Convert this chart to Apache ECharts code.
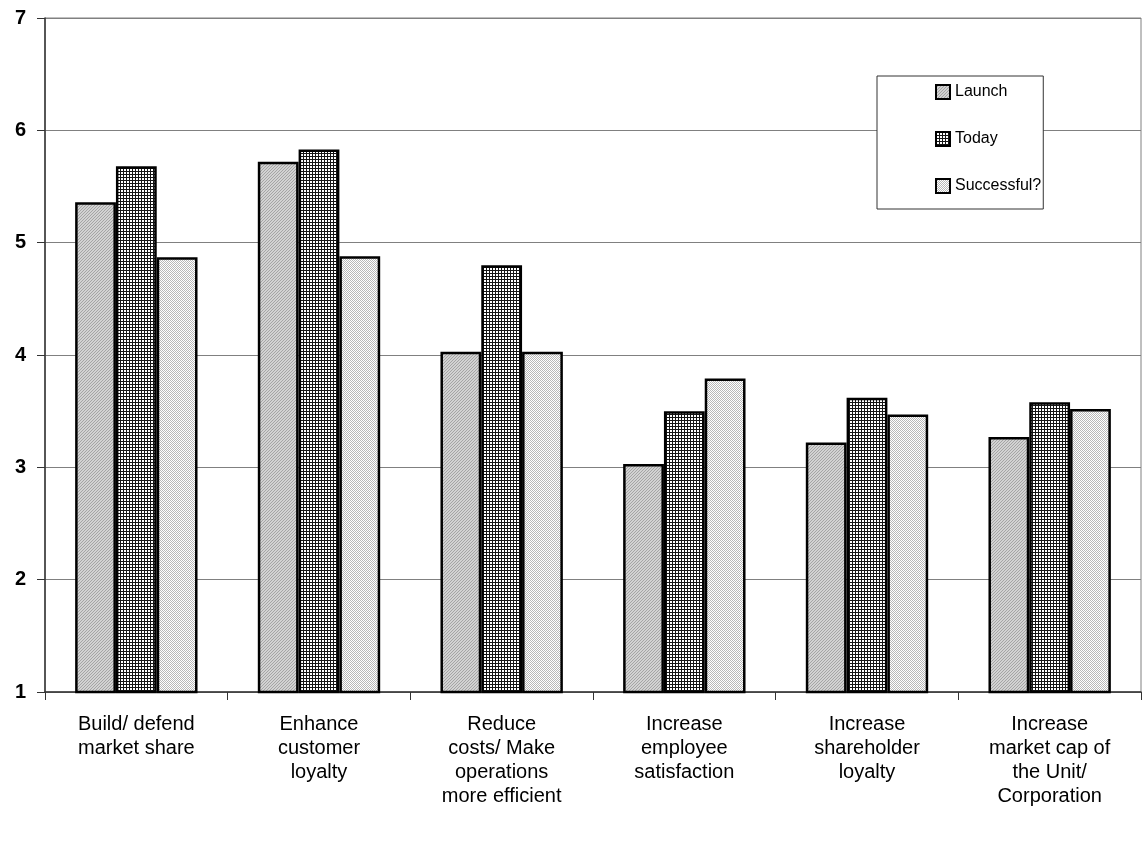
<!DOCTYPE html>
<html>
<head>
<meta charset="utf-8">
<title>Objectives</title>
<script src="https://cdn.jsdelivr.net/npm/echarts@6/dist/echarts.min.js"></script>
<style>
    html, body { margin: 0; padding: 0; background: #fff; }
    #chart { width: 1143px; height: 848px; }
</style>
</head>
<body>
<div id="chart"></div>
<script>
// 数据
var categories = [
    'Build/ defend\nmarket share',
    'Enhance\ncustomer\nloyalty',
    'Reduce\ncosts/ Make\noperations\nmore efficient',
    'Increase\nemployee\nsatisfaction',
    'Increase\nshareholder\nloyalty',
    'Increase\nmarket cap of\nthe Unit/\nCorporation'
];
var seriesNames = ['Launch', 'Today', 'Successful?'];
var launchData = [5.36, 5.72, 4.03, 3.03, 3.22, 3.27];
var todayData = [5.68, 5.83, 4.80, 3.50, 3.62, 3.58];
var successData = [4.87, 4.88, 4.03, 3.79, 3.47, 3.52];

// 填充纹理
function makePattern(size, draw) {
    var c = document.createElement('canvas');
    c.width = size;
    c.height = size;
    var ctx = c.getContext('2d');
    draw(ctx, size);
    return { image: c, repeat: 'repeat' };
}
var launchFill = makePattern(3, function (ctx, s) {
    ctx.fillStyle = '#d2d2d2';
    ctx.fillRect(0, 0, s, s);
    ctx.fillStyle = '#a4a4a4';
    for (var i = 0; i < s; i++) {
        ctx.fillRect((s - 1 - i), i, 1, 1);
    }
});
var todayFill = makePattern(3, function (ctx, s) {
    ctx.fillStyle = '#ffffff';
    ctx.fillRect(0, 0, s, s);
    ctx.fillStyle = '#151515';
    ctx.fillRect(0, 0, s, 1);
    ctx.fillRect(0, 0, 1, s);
});
var successFill = makePattern(2, function (ctx, s) {
    ctx.fillStyle = '#ffffff';
    ctx.fillRect(0, 0, s, s);
    ctx.fillStyle = '#b8b8b8';
    ctx.fillRect(0, 0, 1, 1);
    ctx.fillRect(1, 1, 1, 1);
});

function barSeries(name, data, fill) {
    return {
        name: name,
        type: 'bar',
        data: data,
        barGap: 0,
        barCategoryGap: '33%',
        itemStyle: {
            color: fill,
            borderColor: '#000',
            borderWidth: 2.5
        }
    };
}

var myChart = echarts.init(document.getElementById('chart'));
var options = {
    animation: false,
    textStyle: { fontFamily: 'Liberation Sans, Arial, sans-serif' },
    grid: {
        left: 45,
        right: 2,
        top: 18,
        bottom: 156,
        show: true,
        borderColor: '#808080',
        borderWidth: 1
    },
    legend: {
        orient: 'vertical',
        left: 877,
        top: 76,
        data: seriesNames,
        icon: 'rect',
        itemWidth: 14,
        itemHeight: 14,
        itemGap: 31,
        padding: [8, 2, 15, 58],
        borderColor: '#333',
        borderWidth: 1,
        backgroundColor: '#fff',
        textStyle: { fontSize: 16, color: '#000' }
    },
    xAxis: {
        type: 'category',
        data: categories,
        axisLine: { lineStyle: { color: '#333', width: 1.5 } },
        axisTick: { show: true, length: 8, interval: 0, lineStyle: { color: '#333' } },
        axisLabel: {
            interval: 0,
            margin: 20,
            fontSize: 20,
            lineHeight: 24,
            color: '#000'
        }
    },
    yAxis: {
        type: 'value',
        min: 1,
        max: 7,
        interval: 1,
        axisLine: { show: true, lineStyle: { color: '#333', width: 1.5 } },
        axisTick: { show: true, length: 8, lineStyle: { color: '#333' } },
        axisLabel: {
            margin: 19,
            fontSize: 20,
            fontWeight: 'bold',
            color: '#000'
        },
        splitLine: { show: true, lineStyle: { color: '#808080', width: 1 } }
    },
    series: [
        barSeries(seriesNames[0], launchData, launchFill),
        barSeries(seriesNames[1], todayData, todayFill),
        barSeries(seriesNames[2], successData, successFill)
    ]
};
myChart.setOption(options);
</script>
</body>
</html>
